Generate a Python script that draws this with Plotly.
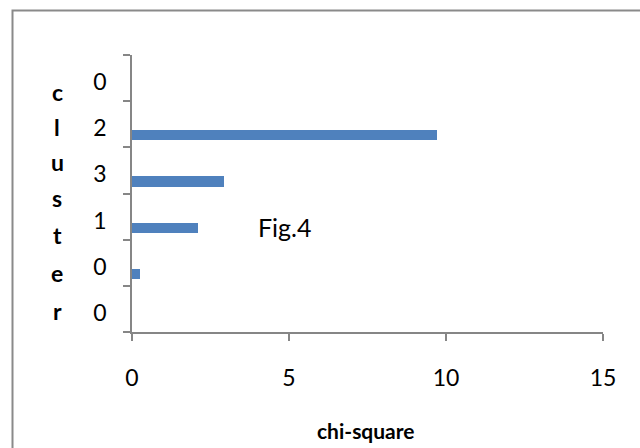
import plotly.graph_objects as go

# Data (top to bottom as shown)
cluster_labels = ["0", "2", "3", "1", "0", "0"]
chi_square = [0.0, 9.7, 2.92, 2.1, 0.25, 0.0]
x_ticks = [0, 5, 10, 15]
y_title_letters = list("cluster")

positions = list(range(len(cluster_labels)))
FONT = "Lato"
GRAY = "#868686"

fig = go.Figure()
fig.add_trace(go.Bar(
    x=chi_square, y=positions, orientation="h",
    marker=dict(color="#4f81bd", line=dict(width=0)),
    width=0.22, offset=0.13, showlegend=False, hoverinfo="x",
))

W, H = 640, 448
L, R, T, B = 132, 37, 55, 116
pw, ph = W - L - R, H - T - B

def px_x(px):
    return (px - L) / pw

def px_y(py):
    return (H - B - py) / ph

annotations = []
letter_y = [92, 127, 162, 198, 235, 273, 311]
for ch, py in zip(y_title_letters, letter_y):
    annotations.append(dict(text="<b>" + ch + "</b>", xref="paper", yref="paper", x=px_x(57), y=px_y(py),
                            showarrow=False, font=dict(family=FONT, size=23, color="#000"),
                            xanchor="center", yanchor="middle"))
annotations.append(dict(text="<b>chi-square</b>", xref="paper", yref="paper", x=px_x(366), y=px_y(430),
                        showarrow=False, font=dict(family=FONT, size=21, color="#000"),
                        xanchor="center", yanchor="middle"))
annotations.append(dict(text="Fig.4", xref="paper", yref="paper", x=px_x(285), y=px_y(227),
                        showarrow=False, font=dict(family=FONT, size=25, color="#000"),
                        xanchor="center", yanchor="middle"))

fig.update_layout(
    width=W, height=H,
    margin=dict(l=L, r=R, t=T, b=B, pad=0),
    paper_bgcolor="white", plot_bgcolor="white",
    font=dict(family=FONT, size=22, color="#000"),
    xaxis=dict(range=[0, 15], tickvals=x_ticks, showgrid=False, zeroline=False,
               showline=True, linecolor=GRAY, linewidth=1.5,
               ticks="outside", ticklen=7, tickcolor=GRAY, tickwidth=1.5,
               ticklabelstandoff=18, tickfont=dict(family=FONT, size=23)),
    yaxis=dict(range=[5.5, -0.5], tickvals=positions, ticktext=cluster_labels,
               showgrid=False, zeroline=False, showline=True, linecolor=GRAY, linewidth=1.5,
               ticks="", ticklabelstandoff=19, ticklabelshift=-4, tickfont=dict(family=FONT, size=23),
               minor=dict(tickvals=[p - 0.5 for p in positions] + [positions[-1] + 0.5],
                          ticks="outside", ticklen=7, tickcolor=GRAY, tickwidth=1.5, showgrid=False)),
    annotations=annotations,
    shapes=[dict(type="rect", xref="paper", yref="paper",
                 x0=px_x(12.5), x1=px_x(700), y0=px_y(500), y1=px_y(10.5),
                 line=dict(color="#8a8a8a", width=2), fillcolor="rgba(0,0,0,0)", layer="below")],
    bargap=0,
)

fig.write_html("out.html", config={"displayModeBar": False},
               post_script="document.body.style.margin='0';document.body.style.overflow='hidden';")
